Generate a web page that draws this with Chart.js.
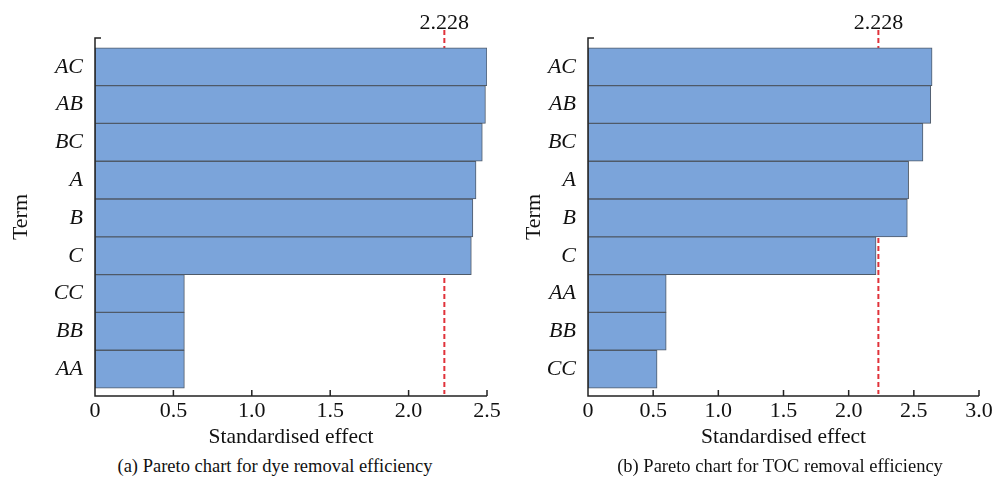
<!DOCTYPE html>
<html>
<head>
<meta charset="utf-8">
<script src="https://cdn.jsdelivr.net/npm/chart.js@4/dist/chart.umd.min.js"></script>
<style>
  html, body { margin: 0; padding: 0; background: #fff; }
  body { width: 993px; height: 481px; position: relative; overflow: hidden; font-family: 'Liberation Serif', serif; }
  .box { position: absolute; top: 0; height: 450px; }
  .cap { position: absolute; top: 456px; font-size: 18.5px; color: #111; text-align: center; white-space: nowrap; }
</style>
</head>
<body>
<div class="box" style="left:0;width:510px"><canvas id="dyeChart"></canvas></div>
<div class="box" style="left:497px;width:496px"><canvas id="tocChart"></canvas></div>
<div class="cap" style="left:0;width:550px">(a) Pareto chart for dye removal efficiency</div>
<div class="cap" style="left:505px;width:550px">(b) Pareto chart for TOC removal efficiency</div>
<script>
/* Pareto charts — standardised effects */

const DYE_TERMS  = ['AC', 'AB', 'BC', 'A', 'B', 'C', 'CC', 'BB', 'AA'];
const DYE_EFFECT = [2.50, 2.49, 2.47, 2.43, 2.41, 2.40, 0.57, 0.57, 0.57];
const DYE_TICKS  = [0, 0.5, 1.0, 1.5, 2.0, 2.5];

const TOC_TERMS  = ['AC', 'AB', 'BC', 'A', 'B', 'C', 'AA', 'BB', 'CC'];
const TOC_EFFECT = [2.64, 2.63, 2.57, 2.46, 2.45, 2.21, 0.60, 0.60, 0.53];
const TOC_TICKS  = [0, 0.5, 1.0, 1.5, 2.0, 2.5, 3.0];

const T_CRIT = 2.228;

const BAR    = '#7ba4da';
const EDGE   = '#4f5a68';
const RED    = '#e0323a';
const INK    = '#111';
const SERIF  = "'Liberation Serif', 'Times New Roman', serif";
const FS     = 22;

// reference line, axis frame and inner tick marks
const paretoDecor = {
  id: 'paretoDecor',
  beforeDatasetsDraw(chart) {
    const { ctx, chartArea: a, scales: { x } } = chart;
    const px = x.getPixelForValue(T_CRIT);
    ctx.save();
    ctx.strokeStyle = RED;
    ctx.lineWidth = 2;
    ctx.setLineDash([5, 3]);
    ctx.beginPath();
    ctx.moveTo(px, a.top - 8);
    ctx.lineTo(px, a.bottom - 2);
    ctx.stroke();
    ctx.setLineDash([]);
    ctx.fillStyle = INK;
    ctx.font = FS + 'px ' + SERIF;
    ctx.textAlign = 'center';
    ctx.textBaseline = 'alphabetic';
    ctx.fillText(T_CRIT.toFixed(3), px, a.top - 9);
    ctx.restore();
  },
  afterDraw(chart) {
    const { ctx, chartArea: a, scales: { x } } = chart;
    ctx.save();
    ctx.strokeStyle = '#222';
    ctx.lineWidth = 1.5;
    ctx.beginPath();
    ctx.moveTo(a.left + 6, a.top);
    ctx.lineTo(a.left, a.top);
    ctx.lineTo(a.left, a.bottom);
    ctx.lineTo(a.right, a.bottom);
    x.ticks.forEach(t => {
      const p = x.getPixelForValue(t.value);
      ctx.moveTo(p, a.bottom);
      ctx.lineTo(p, a.bottom - 6);
    });
    ctx.stroke();
    ctx.restore();
  }
};

function paretoChart(id, terms, effects, ticks, opt) {
  const rows = effects.map((v, i) => ({ x: v, y: i }));
  return new Chart(document.getElementById(id), {
    type: 'bar',
    data: {
      datasets: [{
        data: rows,
        backgroundColor: BAR,
        borderColor: EDGE,
        borderWidth: 1,
        borderSkipped: false,
        barPercentage: 1,
        categoryPercentage: 1
      }]
    },
    options: {
      indexAxis: 'y',
      responsive: true,
      maintainAspectRatio: false,
      animation: false,
      layout: { padding: { top: 38, right: opt.right, left: 0, bottom: 0 } },
      plugins: { legend: { display: false }, tooltip: { enabled: false } },
      scales: {
        x: {
          type: 'linear',
          min: 0,
          max: ticks[ticks.length - 1],
          afterBuildTicks: s => { s.ticks = ticks.map(v => ({ value: v })); },
          afterFit: s => { s.height = 54; s.paddingLeft = 0; s.paddingRight = 0; },
          grid: { display: false, drawTicks: false },
          border: { display: false },
          ticks: {
            padding: 2,
            color: INK,
            font: { family: SERIF, size: FS },
            callback: v => v === 0 ? '0' : v.toFixed(1)
          },
          title: {
            display: true,
            text: 'Standardised effect',
            color: INK,
            font: { family: SERIF, size: 21.5 },
            padding: { top: 0, bottom: 0 }
          }
        },
        y: {
          type: 'linear',
          reverse: true,
          offset: false,
          min: -0.76,
          max: terms.length - 0.29,
          afterBuildTicks: s => { s.ticks = terms.map((_, i) => ({ value: i })); },
          afterFit: s => { s.width = opt.yWidth; },
          grid: { display: false, drawTicks: false },
          border: { display: false },
          ticks: {
            padding: 12,
            color: INK,
            font: { family: SERIF, size: FS, style: 'italic' },
            callback: v => terms[v] ?? ''
          },
          title: {
            display: true,
            text: 'Term',
            color: INK,
            font: { family: SERIF, size: FS },
            padding: { top: opt.titlePad, bottom: 0 }
          }
        }
      }
    },
    plugins: [paretoDecor]
  });
}

paretoChart('dyeChart', DYE_TERMS, DYE_EFFECT, DYE_TICKS, { right: 23, yWidth: 95, titlePad: 8 });
paretoChart('tocChart', TOC_TERMS, TOC_EFFECT, TOC_TICKS, { right: 14, yWidth: 91, titlePad: 24 });
</script>
</body>
</html>
